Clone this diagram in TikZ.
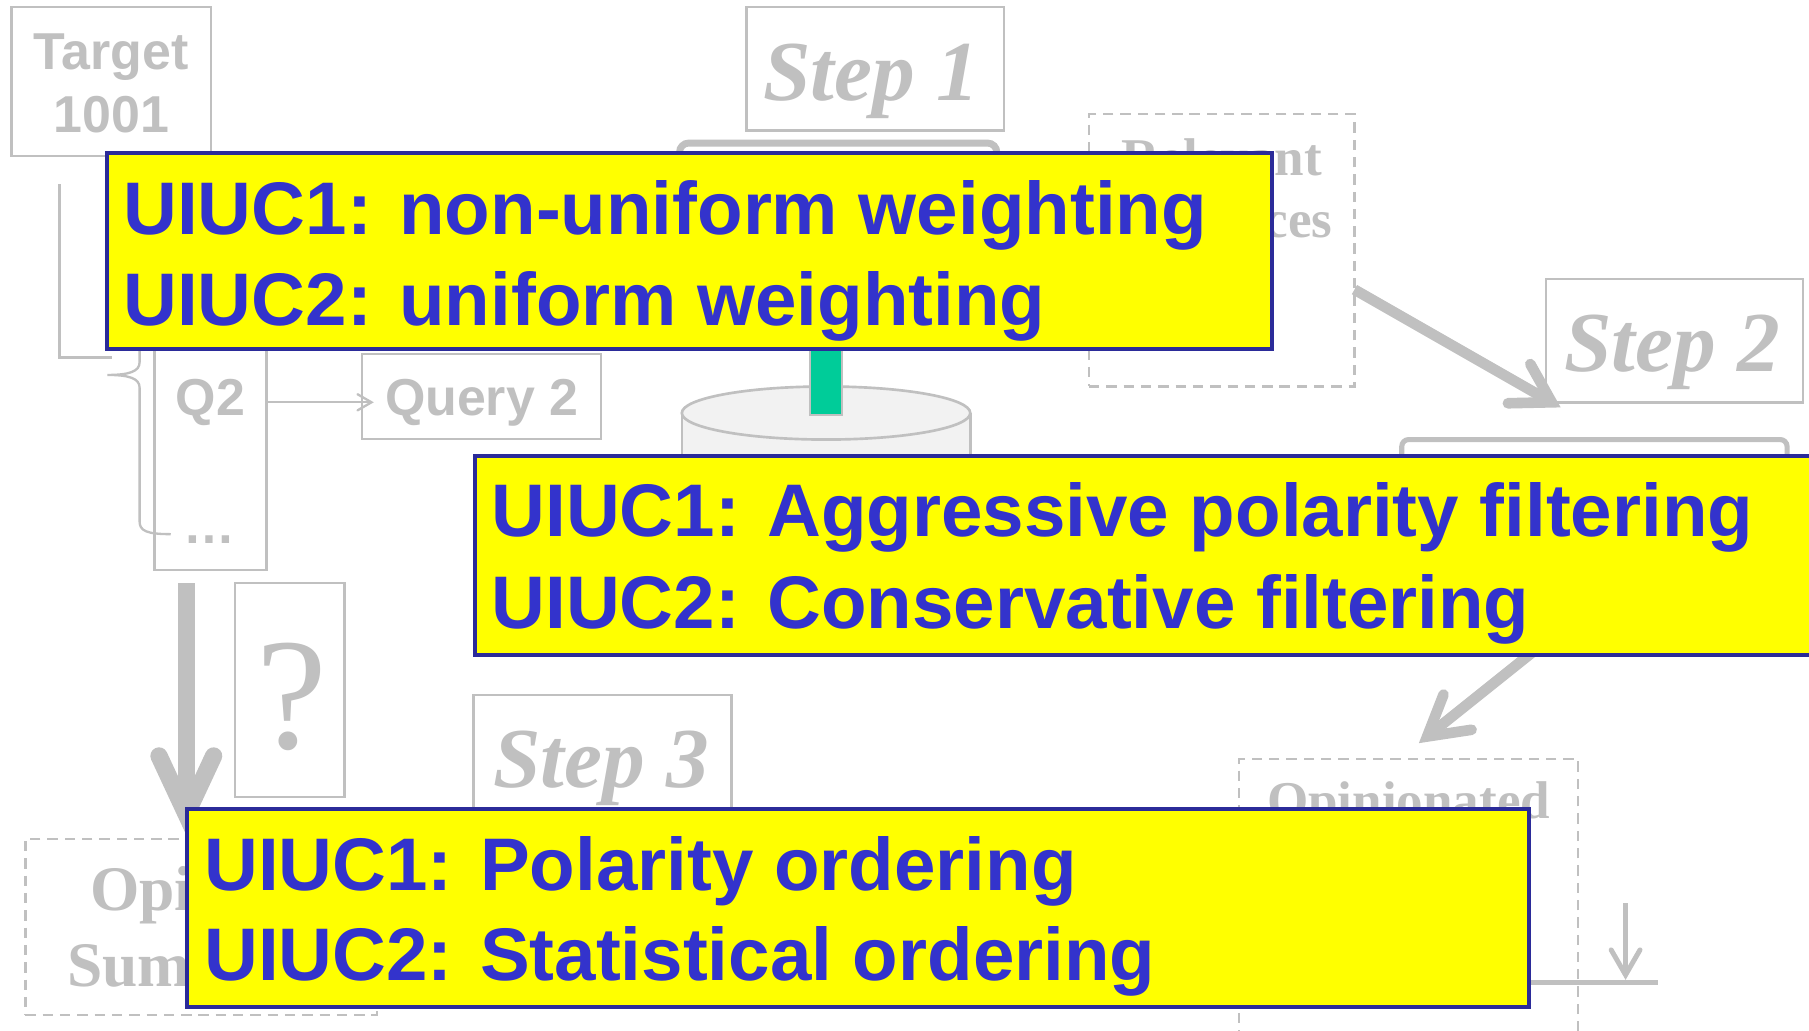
\documentclass[tikz,border=0pt]{standalone}
\usepackage{fontspec}
\setmainfont{Liberation Serif}
\setsansfont{Liberation Sans}
\usetikzlibrary{calc}

\definecolor{ghost}{HTML}{C0C0C0}
\definecolor{noteyellow}{HTML}{FFFF00}
\definecolor{noteedge}{HTML}{2B2B99}
\definecolor{noteink}{HTML}{3333CC}
\definecolor{tealbar}{HTML}{00CC99}
\definecolor{drum}{HTML}{F2F2F2}

% straight shaft plus an open chevron head with round arm ends
\newcommand\barbarrow[5]{% style, tail, tip, arm length, half angle
  \draw[#1, line cap=butt] (#2) -- (#3);
  \draw[#1, line cap=round, line join=miter]
    ($(#3)!#4!#5:(#2)$) -- (#3) -- ($(#3)!#4!-#5:(#2)$);}

\begin{document}
\begin{tikzpicture}[x=0.5pt,y=-0.5pt,
  every node/.style={inner sep=0pt, outer sep=0pt},
  ghostbox/.style={draw=ghost, line width=1pt},
  dashbox/.style={draw=ghost, line width=1pt, dash pattern=on 4.5pt off 3pt},
  notebox/.style={draw=noteedge, fill=noteyellow, line width=1.8pt},
  noteline/.style={text=noteink, font=\sffamily\bfseries\fontsize{32.3}{39}\selectfont, anchor=base west},
  ghostsans/.style={text=ghost, font=\sffamily\bfseries\fontsize{22.5}{27}\selectfont, anchor=base},
  ghostserif/.style={text=ghost, font=\rmfamily\bfseries\fontsize{23}{27}\selectfont, anchor=base},
  bigserif/.style={text=ghost, font=\rmfamily\bfseries\fontsize{27.5}{32}\selectfont, anchor=base},
  steplabel/.style={text=ghost, font=\rmfamily\bfseries\itshape\fontsize{37}{40}\selectfont, anchor=base},
  thinlink/.style={draw=ghost, line width=1pt},
  midlink/.style={draw=ghost, line width=2.15pt},
  widelink/.style={draw=ghost, line width=4.6pt},
  heavylink/.style={draw=ghost, line width=7.5pt},
]
\useasboundingbox (0,0) rectangle (1568,893);
\fill[white] (0,0) rectangle (1568,893);
\clip (0,0) rectangle (1568,893);

% ---------- target and query generation ----------
\node[ghostbox, minimum width=86.5pt, minimum height=64.5pt] (target) at (96.5,70.5) {};
\node[ghostsans] (targetA) at (96.5,60) {Target};
\node[ghostsans] (targetB) at (96.5,114.5) {1001};

\coordinate (brTop) at (51.5,159.5);
\coordinate (brFoot) at (97,310);
\draw[thinlink] (brTop) |- (brFoot);

\coordinate (bcTop) at (121,298);
\coordinate (bcTip) at (93,325);
\coordinate (bcEnd) at (148,463);
\draw[thinlink] (bcTop) -- (121,314) .. controls (121,322) and (112,325) .. (bcTip)
  .. controls (112,325) and (121,328) .. (121,336) -- (121,452)
  .. controls (121,460) and (127,463) .. (bcEnd);

\node[ghostbox, minimum width=48.5pt, minimum height=102pt] (qcol) at (182.5,392) {};
\node[ghostsans] (q2) at (182.5,360.5) {Q2};
\node[ghostsans] (qdots) at (181.5,471.5) {…};

\node[ghostbox, minimum width=103.75pt, minimum height=36.75pt] (query2) at (417.25,343.75) {};
\node[ghostsans] (query2t) at (417.5,360.5) {Query 2};
\coordinate (qFrom) at (231,348.7);
\coordinate (qTo) at (322,348.7);
\barbarrow{thinlink}{qFrom}{qTo}{7pt}{30}

% ---------- step 1: retrieval ----------
\node[ghostbox, minimum width=111.5pt, minimum height=53.5pt] (step1) at (758.5,59.5) {};
\node[steplabel] (step1t) at (755,87) {Step 1};
\node[draw=ghost, line width=3pt, rounded corners=4pt, minimum width=137.5pt, minimum height=83pt] (engine) at (726.5,207) {};

% document collection
\fill[drum] (591,358) -- (591,460) -- (841,460) -- (841,358) -- cycle;
\draw[ghost, line width=1.15pt] (591,358) -- (591,460) (841,358) -- (841,460);
\draw[ghost, fill=drum, line width=1.15pt] (716,358) ellipse [x radius=125, y radius=23];
\coordinate (drumTop) at (716,358);
\node[draw=ghost, fill=tealbar, line width=0.8pt, minimum width=14pt, minimum height=35pt] (feed) at (716,325) {};

% relevant sentences
\node[dashbox, minimum width=115pt, minimum height=118pt] (relevant) at (1059,217) {};
\node[ghostserif] (relA) at (1059,152) {Relevant};
\node[ghostserif] (relB) at (1059,206) {Sentences};

% ---------- step 2: polarity filtering ----------
\coordinate (relOut) at (1174,251);
\coordinate (s2Tip) at (1345,348.7);
\barbarrow{widelink}{relOut}{s2Tip}{19pt}{31}
\node[ghostbox, minimum width=111.5pt, minimum height=53.5pt] (step2) at (1451.5,295.5) {};
\node[steplabel] (step2t) at (1449.5,322) {Step 2};
\node[draw=ghost, line width=2.2pt, rounded corners=3pt, minimum width=167pt, minimum height=79.5pt] (classifier) at (1382,460.5) {};

\coordinate (filtOut) at (1345,552);
\coordinate (opTip) at (1237,638.4);
\barbarrow{widelink}{filtOut}{opTip}{19.5pt}{30}

\node[dashbox, minimum width=147pt, minimum height=151pt] (opinionated) at (1221,809) {};
\node[ghostserif] (opA) at (1221,709.5) {Opinionated};
\node[ghostserif] (opB) at (1221,763) {Sentences};

% ---------- step 3: ordering ----------
\coordinate (sumFrom) at (161.5,505.5);
\coordinate (sumTip) at (161.5,706);
\barbarrow{heavylink}{sumFrom}{sumTip}{28pt}{25}
\node[ghostbox, minimum width=47.5pt, minimum height=92.75pt] (unknown) at (251,598.25) {};
\node[text=ghost, font=\rmfamily\fontsize{69}{72}\selectfont, anchor=base] (unknownt) at (253,649) {?};

\node[ghostbox, minimum width=111.75pt, minimum height=53.25pt] (step3) at (522.25,655.75) {};
\node[steplabel] (step3t) at (521,683) {Step 3};

\node[dashbox, minimum width=152.5pt, minimum height=76.5pt] (summary) at (174.5,803.5) {};
\node[bigserif] (sumA) at (174.5,789) {Opinion};
\node[bigserif] (sumB) at (174.5,855.5) {Summary};

\coordinate (railL) at (1300,852);
\coordinate (railR) at (1437,852);
\draw[midlink] (railL) -- (railR);
\coordinate (dropFrom) at (1409,783);
\coordinate (dropTip) at (1409,845);
\barbarrow{midlink}{dropFrom}{dropTip}{12.5pt}{30}

% ---------- call-outs ----------
\node[notebox, minimum width=504.7pt, minimum height=84.7pt] (noteA) at (597.5,217.5) {};
\node[noteline] (noteA1) at (107,203) {UIUC1: non-uniform weighting};
\node[noteline] (noteA2) at (107,282) {UIUC2: uniform weighting};

\node[notebox, minimum width=604.1pt, minimum height=86.2pt] (noteB) at (1015.9,481.5) {};
\node[noteline] (noteB1) at (426,465) {UIUC1: Aggressive polarity filtering};
\node[noteline] (noteB2) at (426,545) {UIUC2: Conservative filtering};

\node[notebox, minimum width=581.7pt, minimum height=85.7pt] (noteC) at (743.5,787) {};
\node[noteline] (noteC1) at (177,771.5) {UIUC1: Polarity ordering};
\node[noteline] (noteC2) at (177,849.5) {UIUC2: Statistical ordering};
\end{tikzpicture}
\end{document}
